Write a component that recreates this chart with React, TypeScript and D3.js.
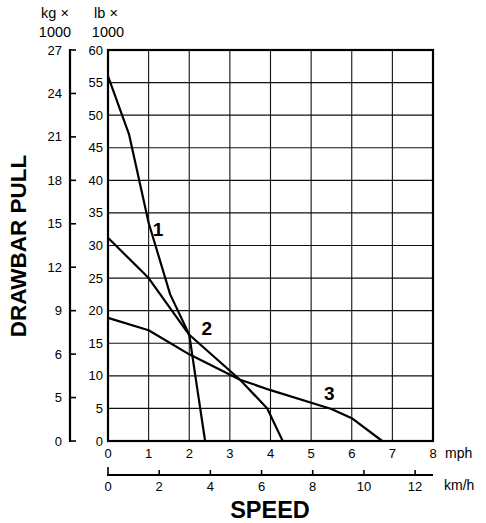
import * as d3 from "d3";

// speed in mph, pull in lb x 1000
const curve1 = [
  { mph: 0, lb: 56 },
  { mph: 0.52, lb: 47 },
  { mph: 1.0, lb: 33.5 },
  { mph: 1.53, lb: 22.5 },
  { mph: 2.0, lb: 16.3 },
  { mph: 2.15, lb: 10 },
  { mph: 2.39, lb: 0 },
];
const curve2 = [
  { mph: 0, lb: 31.2 },
  { mph: 1.0, lb: 25 },
  { mph: 2.0, lb: 16.3 },
  { mph: 3.25, lb: 9.4 },
  { mph: 3.92, lb: 5 },
  { mph: 4.3, lb: 0 },
];
const curve3 = [
  { mph: 0, lb: 18.9 },
  { mph: 1.0, lb: 17 },
  { mph: 2.0, lb: 13.3 },
  { mph: 3.25, lb: 9.4 },
  { mph: 4.0, lb: 7.8 },
  { mph: 5.5, lb: 4.9 },
  { mph: 6.0, lb: 3.5 },
  { mph: 6.75, lb: 0 },
];
const curves = [curve1, curve2, curve3];
const curveLabels = [
  { text: "1", mph: 1.23, lb: 32.5 },
  { text: "2", mph: 2.43, lb: 17.2 },
  { text: "3", mph: 5.45, lb: 7.3 },
];

const mphTicks = [0, 1, 2, 3, 4, 5, 6, 7, 8];
const lbTicks = [0, 5, 10, 15, 20, 25, 30, 35, 40, 45, 50, 55, 60];
const kmhTicks = [0, 2, 4, 6, 8, 10, 12];
const kgTicks = [0, 3, 6, 9, 12, 15, 18, 21, 24, 27];
const kgTickLabels = ["0", "5", "6", "9", "12", "15", "18", "21", "24", "27"];
const kmhMax = 12.7;

const font = "'Liberation Sans', Arial, Helvetica, sans-serif";

export default function App() {
  const width = 486;
  const height = 523;
  const left = 108, right = 433, top = 50, bottom = 441;

  const x = d3.scaleLinear().domain([0, 8]).range([left, right]);
  const y = d3.scaleLinear().domain([0, 60]).range([bottom, top]);
  const yKg = d3.scaleLinear().domain([0, 27]).range([bottom, top]);
  const xKmh = d3.scaleLinear().domain([0, kmhMax]).range([left, right]);

  const line = d3.line<{ mph: number; lb: number }>()
    .x(d => x(d.mph))
    .y(d => y(d.lb));

  const kgX = 70;
  const kmhY = 475;

  return (
    <svg width={width} height={height}
      style={{ position: "absolute", left: 0, top: 0, display: "block", background: "#fff" }}
      fontFamily={font}>
      {/* grid */}
      {mphTicks.slice(1, -1).map(t => (
        <line key={"gx" + t} x1={x(t)} x2={x(t)} y1={top} y2={bottom} stroke="#111" strokeWidth={1.1} />
      ))}
      {lbTicks.slice(1, -1).map(t => (
        <line key={"gy" + t} x1={left} x2={right} y1={y(t)} y2={y(t)} stroke="#111" strokeWidth={1.1} />
      ))}
      <rect x={left} y={top} width={right - left} height={bottom - top} fill="none" stroke="#000" strokeWidth={2.2} />

      {/* curves */}
      {curves.map((c, i) => (
        <path key={"c" + i} d={line(c) || ""} fill="none" stroke="#000" strokeWidth={2.2} strokeLinejoin="round" />
      ))}
      {curveLabels.map(l => (
        <text key={"l" + l.text} x={x(l.mph)} y={y(l.lb)} fontSize={19} fontWeight="bold"
          textAnchor="middle" dominantBaseline="central">{l.text}</text>
      ))}

      {/* lb axis labels */}
      {lbTicks.map(t => (
        <text key={"ly" + t} x={103} y={y(t)} fontSize={13} textAnchor="end" dominantBaseline="central">{t}</text>
      ))}
      {/* mph labels */}
      {mphTicks.map(t => (
        <text key={"lx" + t} x={x(t)} y={453} fontSize={13} textAnchor="middle" dominantBaseline="central">{t}</text>
      ))}
      <text x={445} y={453} fontSize={14} dominantBaseline="central">mph</text>

      {/* kg axis */}
      <line x1={kgX} x2={kgX} y1={yKg(27) - 1} y2={yKg(0) + 1} stroke="#000" strokeWidth={2.2} />
      {kgTicks.map((t, i) => (
        <g key={"kg" + t}>
          <line x1={kgX} x2={kgX + 6} y1={yKg(t)} y2={yKg(t)} stroke="#000" strokeWidth={1.6} />
          <text x={62} y={yKg(t)} fontSize={13} textAnchor="end" dominantBaseline="central">{kgTickLabels[i]}</text>
        </g>
      ))}

      {/* km/h axis */}
      <line x1={left - 1} x2={right} y1={kmhY} y2={kmhY} stroke="#000" strokeWidth={2.2} />
      {kmhTicks.map(t => (
        <g key={"kmh" + t}>
          <line x1={xKmh(t)} x2={xKmh(t)} y1={kmhY} y2={kmhY - (t === 0 ? 8 : 5)} stroke="#000" strokeWidth={1.6} />
          <text x={xKmh(t)} y={486} fontSize={13} textAnchor="middle" dominantBaseline="central">{t}</text>
        </g>
      ))}
      <text x={444} y={485} fontSize={14} dominantBaseline="central">km/h</text>

      {/* unit headers */}
      <text x={55} y={13} fontSize={14.5} textAnchor="middle" dominantBaseline="central">kg ×</text>
      <text x={55} y={32} fontSize={14.5} textAnchor="middle" dominantBaseline="central">1000</text>
      <text x={106} y={13} fontSize={14.5} textAnchor="middle" dominantBaseline="central">lb ×</text>
      <text x={108} y={32} fontSize={14.5} textAnchor="middle" dominantBaseline="central">1000</text>

      {/* axis titles */}
      <text x={270} y={510} fontSize={23.5} fontWeight="bold" textAnchor="middle" dominantBaseline="central">SPEED</text>
      <text transform="translate(18,246) rotate(-90)" fontSize={22.5} fontWeight="bold"
        textAnchor="middle" dominantBaseline="central">DRAWBAR PULL</text>
    </svg>
  );
}
